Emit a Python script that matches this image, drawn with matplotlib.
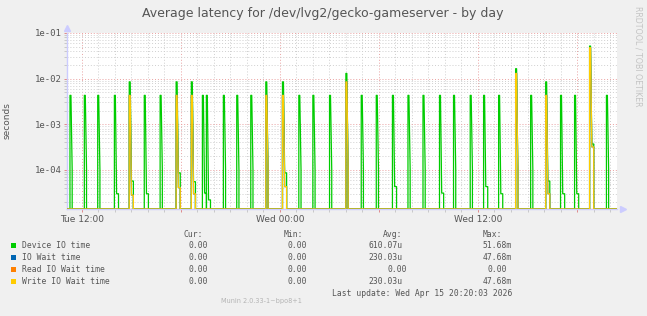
import matplotlib
matplotlib.use('Agg')
import matplotlib.pyplot as plt
import numpy as np
from matplotlib.patches import Rectangle
from matplotlib.ticker import FixedLocator, FuncFormatter, LogLocator, NullFormatter

W, H = 647, 316  # output size in pixels

# spike times, hours after Tue 12:00
spike_hours = [-0.71, 0.16, 0.97, 1.98, 2.88, 3.79, 4.75, 5.72, 6.64, 7.31,
               7.55, 8.58, 9.39, 10.24, 11.15, 12.16, 13.15, 14.00, 15.01, 16.00,
               16.93, 17.84, 18.82, 19.76, 20.67, 21.67, 22.52, 23.53, 24.34, 25.25,
               26.28, 27.19, 28.10, 29.00, 29.85, 30.76, 31.78]

# Device IO time peaks (s) and the small plateau after some spikes (0 = none)
device_peak = [4.3e-3, 4.3e-3, 4.3e-3, 4.3e-3, 8.5e-3, 4.3e-3, 4.3e-3, 8.5e-3, 8.5e-3, 4.3e-3,
               4.3e-3, 4.3e-3, 4.3e-3, 4.3e-3, 8.5e-3, 8.5e-3, 4.3e-3, 4.3e-3, 4.3e-3, 1.3e-2,
               4.3e-3, 4.3e-3, 4.3e-3, 4.3e-3, 4.3e-3, 4.3e-3, 4.3e-3, 4.3e-3, 4.3e-3, 4.3e-3,
               1.65e-2, 4.3e-3, 8.5e-3, 4.3e-3, 4.3e-3, 5.17e-2, 4.3e-3]
device_tail = [0, 0, 0, 3e-5, 5.7e-5, 3e-5, 0, 8.6e-5, 5.5e-5, 3.1e-5,
               2.2e-5, 0, 0, 0, 0, 8.6e-5, 0, 0, 0, 0,
               0, 0, 4.3e-5, 0, 0, 3.1e-5, 0, 0, 4.3e-5, 3e-5,
               0, 0, 5.7e-5, 3e-5, 3e-5, 3.7e-4, 0]

# Write IO wait (IO Wait time is the same, Read IO wait is zero)
write_peak = [0, 0, 0, 0, 4.3e-3, 0, 0, 4.3e-3, 4.3e-3, 0,
              0, 0, 0, 0, 4.3e-3, 4.3e-3, 0, 0, 0, 8.5e-3,
              0, 0, 0, 0, 0, 0, 0, 0, 0, 0,
              1.3e-2, 0, 4.3e-3, 0, 0, 4.77e-2, 0]
write_tail = [0, 0, 0, 0, 2.8e-5, 0, 0, 4.1e-5, 3e-5, 0,
              0, 0, 0, 0, 0, 4.3e-5, 0, 0, 0, 0,
              0, 0, 0, 0, 0, 0, 0, 0, 0, 0,
              0, 0, 3e-5, 0, 0, 3.2e-4, 0]
read_peak = [0] * len(spike_hours)

after_spike = 1e-4  # next sample after a spike

legend_names = ['Device IO time', 'IO Wait time', 'Read IO Wait time', 'Write IO Wait time']
legend_colors = ['#00CC00', '#0066B3', '#FF8000', '#FFCC00']
cur_vals = ['0.00', '0.00', '0.00', '0.00']
min_vals = ['0.00', '0.00', '0.00', '0.00']
avg_vals = ['610.07u', '230.03u', '0.00', '230.03u']
max_vals = ['51.68m', '47.68m', '0.00', '47.68m']

x_lo, x_hi = -0.89, 32.42
y_lo, y_hi = 1.39e-5, 1e-1
step = 1.0 / 12  # 5 minute samples


def build(peaks, tails):
    t, y = [x_lo], [0.0]
    for h, p, q in zip(spike_hours, peaks, tails):
        if p <= 0:
            continue
        t += [h, h, h + step * 0.7, h + step * 1.6]
        y += [0.0, p, p, q if q else after_spike]
        if q:
            t.append(h + step * 3.0)
            y.append(q)
        t.append(t[-1])
        y.append(0.0)
    t.append(x_hi)
    y.append(0.0)
    y = np.array(y)
    return np.array(t), np.where(y > 0, y, y_lo)  # zero drawn on the floor


def fx(x):
    return x / W


def fy(y):
    return 1 - y / H


fig = plt.figure(figsize=(W / 100, H / 100), dpi=100, facecolor='#f0f0f0')
ax = fig.add_axes([fx(67), fy(209), 550 / W, 176 / H])
ax.set_facecolor('white')
ax.set_yscale('log')
ax.set_xlim(x_lo, x_hi)
ax.set_ylim(y_lo, y_hi)

# grid
ax.xaxis.set_major_locator(FixedLocator([0, 6, 12, 18, 24, 30]))
ax.xaxis.set_minor_locator(FixedLocator(np.arange(0, 33)))
xlabels = {0: 'Tue 12:00', 12: 'Wed 00:00', 24: 'Wed 12:00'}
ax.xaxis.set_major_formatter(FuncFormatter(lambda v, p: xlabels.get(int(round(v)), '')))
ax.yaxis.set_major_locator(LogLocator(base=10))
ax.yaxis.set_minor_locator(LogLocator(base=10, subs=np.arange(2, 10)))
ax.yaxis.set_major_formatter(FuncFormatter(lambda v, p: '%.0e' % v))
ax.yaxis.set_minor_formatter(NullFormatter())
ax.grid(which='minor', color='#cfcfcf', linestyle=(0, (1, 2)), linewidth=0.7)
ax.grid(which='major', color='#eaa0a0', linestyle=(0, (1, 2)), linewidth=0.7)
ax.set_axisbelow(True)

ax.tick_params(which='both', direction='out', length=2, width=0.7,
               labelsize=6.5, labelcolor='#555555', pad=2)
ax.tick_params(which='minor', color='#c8c8c8')
ax.tick_params(which='major', color='#e08a8a')
for lab in ax.get_yticklabels():
    lab.set_family('DejaVu Sans Mono')

for s in ['top', 'right']:
    ax.spines[s].set_visible(False)
for s in ['left', 'bottom']:
    ax.spines[s].set_color('#ccccff')
    ax.spines[s].set_linewidth(1)
ax.plot([0], [1.03], marker='^', ms=4, color='#ccccff', transform=ax.transAxes, clip_on=False)
ax.plot([1.01], [0], marker='>', ms=4, color='#ccccff', transform=ax.transAxes, clip_on=False)

# series, drawn in munin order
t, y = build(device_peak, device_tail)
ax.plot(t, y, color=legend_colors[0], lw=0.9, zorder=3)
t, y = build(write_peak, write_tail)
ax.plot(t, y, color=legend_colors[1], lw=0.9, zorder=3)
t, y = build(read_peak, read_peak)
ax.plot(t, y, color=legend_colors[2], lw=0.9, zorder=3)
t, y = build(write_peak, write_tail)
ax.plot(t, y, color=legend_colors[3], lw=0.9, zorder=3)

ax.set_ylabel('seconds', fontsize=6.5, color='#555555', labelpad=0)
ax.yaxis.set_label_coords(fx(12) / (550 / W) - fx(67) / (550 / W), 0.5)

fig.text(fx(323), fy(13), 'Average latency for /dev/lvg2/gecko-gameserver - by day',
         ha='center', va='center', fontsize=9, color='#555555')
fig.text(fx(638), fy(56), 'RRDTOOL / TOBI OETIKER', rotation=270, ha='center', va='center',
         fontsize=5.7, color='#c4c4c4')

# legend block
mono = dict(family='DejaVu Sans Mono', fontsize=5.8, color='#555555', va='center')
fig.text(fx(184), fy(234.5), 'Cur:', ha='left', **mono)
fig.text(fx(284), fy(234.5), 'Min:', ha='left', **mono)
fig.text(fx(383), fy(234.5), 'Avg:', ha='left', **mono)
fig.text(fx(482.5), fy(234.5), 'Max:', ha='left', **mono)
rows = [245.5, 257.5, 269.5, 281.5]
for i, yy in enumerate(rows):
    fig.patches.append(Rectangle((fx(11), fy(yy + 2.5)), 5 / W, 5 / H, transform=fig.transFigure,
                                 facecolor=legend_colors[i], edgecolor='none'))
    fig.text(fx(21.5), fy(yy), legend_names[i], ha='left', **mono)
    fig.text(fx(207.5), fy(yy), cur_vals[i], ha='right', **mono)
    fig.text(fx(307.5), fy(yy), min_vals[i], ha='right', **mono)
    if avg_vals[i][-1].isalpha():
        fig.text(fx(402.5), fy(yy), avg_vals[i], ha='right', **mono)
    else:
        fig.text(fx(407.5), fy(yy), avg_vals[i], ha='right', **mono)
    if max_vals[i][-1].isalpha():
        fig.text(fx(512), fy(yy), max_vals[i], ha='right', **mono)
    else:
        fig.text(fx(507), fy(yy), max_vals[i], ha='right', **mono)
fig.text(fx(512), fy(293), 'Last update: Wed Apr 15 20:20:03 2026', ha='right', **mono)
fig.text(fx(261.5), fy(301.5), 'Munin 2.0.33-1~bpo8+1', ha='center', va='center',
         fontsize=4.7, color='#b4b4b4')

fig.savefig('out.png', dpi=100, facecolor=fig.get_facecolor())
